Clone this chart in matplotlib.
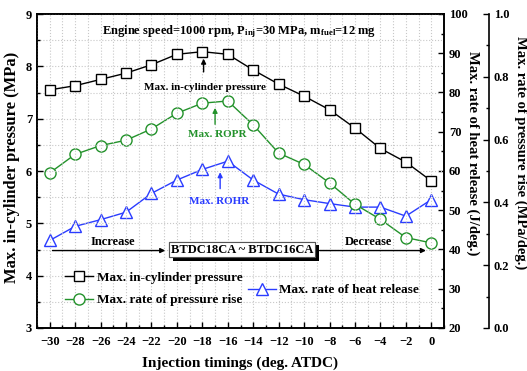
import matplotlib
matplotlib.use("Agg")
import matplotlib.pyplot as plt
import matplotlib.patheffects as pe
from matplotlib.ticker import MultipleLocator, FormatStrFormatter
import numpy as np

## données
timing = [-30, -28, -26, -24, -22, -20, -18, -16, -14, -12, -10, -8, -6, -4, -2, 0]
p_max = [7.55, 7.63, 7.75, 7.87, 8.03, 8.23, 8.28, 8.23, 7.93, 7.66, 7.43, 7.17, 6.82, 6.43, 6.17, 5.81]
ropr = [0.494, 0.553, 0.581, 0.598, 0.634, 0.684, 0.716, 0.723, 0.647, 0.557, 0.521, 0.462, 0.394, 0.346, 0.288, 0.271]
rohr = [42.3, 45.9, 47.6, 49.5, 54.3, 57.7, 60.4, 62.5, 57.7, 54.1, 52.7, 51.7, 50.8, 50.8, 48.5, 52.7]
xticks = list(range(-30, 1, 2))

green = '#23922b'
blue = '#2a3cff'

plt.rcParams['font.family'] = 'Liberation Serif'
plt.rcParams['font.weight'] = 'bold'
plt.rcParams['mathtext.fontset'] = 'custom'
plt.rcParams['mathtext.rm'] = 'Liberation Serif:bold'
plt.rcParams['mathtext.it'] = 'Liberation Serif:bold'
plt.rcParams['mathtext.bf'] = 'Liberation Serif:bold'
plt.rcParams['mathtext.default'] = 'rm'

fig = plt.figure(figsize=(5.27, 3.71), dpi=100)
ax = fig.add_axes([37/527, 1-328/371, 407/527, 314/371])
ax2 = ax.twinx()
ax3 = ax.twinx()
ax3.spines['right'].set_position(('axes', 1.1106))

## courbes
l1, = ax.plot(timing, p_max, '-s', color='k', mfc='white', mec='k', ms=7, lw=1, mew=1, zorder=5)
l3, = ax2.plot(timing, rohr, '-^', color=blue, mfc='white', mec=blue, ms=8.5, lw=1, mew=1)
l2, = ax3.plot(timing, ropr, '-o', color=green, mfc='white', mec=green, ms=8, lw=1, mew=1)

ax.set_xlim(-31, 1)
ax.set_ylim(3, 9)
ax2.set_ylim(20, 100)
ax3.set_ylim(0, 1.0)
ax.set_xticks(xticks)
ax.xaxis.set_minor_locator(MultipleLocator(1))
ax.yaxis.set_major_locator(MultipleLocator(1))
ax.yaxis.set_minor_locator(MultipleLocator(0.5))
ax2.yaxis.set_major_locator(MultipleLocator(10))
ax2.yaxis.set_minor_locator(MultipleLocator(5))
ax3.yaxis.set_major_locator(MultipleLocator(0.2))
ax3.yaxis.set_minor_locator(MultipleLocator(0.1))
ax3.yaxis.set_major_formatter(FormatStrFormatter('%.1f'))

ax.grid(True, which='both', color='#c8c8c8', ls=':', lw=0.8)
ax.set_axisbelow(True)

for a in (ax, ax2, ax3):
    a.tick_params(which='both', direction='in', labelsize=9, width=1)
    a.tick_params(which='major', length=4)
    a.tick_params(which='minor', length=2)
    for s in a.spines.values():
        s.set_linewidth(1.2)
ax.tick_params(axis='x', pad=6)
ax3.spines['top'].set_visible(False)
ax3.spines['bottom'].set_visible(False)
ax3.spines['left'].set_visible(False)

ax.set_xlabel('Injection timings (deg. ATDC)', fontsize=11, fontweight='bold', labelpad=6)
ax.set_ylabel('Max. in-cylinder pressure (MPa)', fontsize=12, fontweight='bold')
ax2.set_ylabel('Max. rate of heat release (J/deg.)', fontsize=10.5, fontweight='bold', rotation=270)
ax3.set_ylabel('Max. rate of pressure rise (MPa/deg.)', fontsize=10.5, fontweight='bold', rotation=270)
ax.yaxis.set_label_coords(-0.061, 0.513)
ax2.yaxis.set_label_coords(1.071, 0.556)
ax3.yaxis.set_label_coords(1.189, 0.56)
for a in (ax, ax2, ax3):
    a.yaxis.label.set_va('center')

## textes et fleches
ax.text(-15.1, 8.66, 'Engine speed=1000 rpm, P$_{inj}$=30 MPa, m$_{fuel}$=12 mg',
        ha='center', va='center', fontsize=9, fontweight='bold')

ax.text(-17.8, 7.6, 'Max. in-cylinder pressure', ha='center', va='center', fontsize=8, fontweight='bold')
ax.annotate('', xy=(-17.9, 8.2), xytext=(-17.9, 7.84),
            arrowprops=dict(arrowstyle='-|>', color='k', lw=1, mutation_scale=7))
ax.text(-16.8, 6.69, 'Max. ROPR', ha='center', va='center', fontsize=8, fontweight='bold', color=green)
ax.annotate('', xy=(-17.0, 7.26), xytext=(-17.0, 6.84),
            arrowprops=dict(arrowstyle='-|>', color=green, lw=1, mutation_scale=7))
ax.text(-16.65, 5.42, 'Max. ROHR', ha='center', va='center', fontsize=8, fontweight='bold', color=blue)
ax.annotate('', xy=(-16.6, 6.03), xytext=(-16.6, 5.61),
            arrowprops=dict(arrowstyle='-|>', color=blue, lw=1, mutation_scale=7))

ax.text(-25, 4.65, 'Increase', ha='center', va='center', fontsize=9, fontweight='bold')
ax.text(-4.9, 4.65, 'Decrease', ha='center', va='center', fontsize=9, fontweight='bold')
ax.annotate('', xy=(-20.7, 4.48), xytext=(-30, 4.48),
            arrowprops=dict(arrowstyle='-|>', color='k', lw=1, mutation_scale=7))
ax.annotate('', xy=(-0.2, 4.48), xytext=(-9.0, 4.48),
            arrowprops=dict(arrowstyle='-|>', color='k', lw=1, mutation_scale=7))
box = ax.text(-14.85, 4.5, 'BTDC18CA ~ BTDC16CA', ha='center', va='center', fontsize=9,
              fontweight='bold', zorder=6,
              bbox=dict(boxstyle='square,pad=0.15', fc='white', ec='#555555', lw=0.8))
box.get_bbox_patch().set_path_effects([
    pe.withSimplePatchShadow(offset=(2.5, -2.5), shadow_rgbFace='k', alpha=1), pe.Normal()])

## legendes
leg1 = ax.legend([l1, l2], ['Max. in-cylinder pressure', 'Max. rate of pressure rise'],
                 loc='center left', bbox_to_anchor=(0.069, 0.124), frameon=False,
                 borderaxespad=0, borderpad=0, handlelength=2.1, handletextpad=0.3,
                 labelspacing=0.75, prop=dict(size=9.5, weight='bold'))
leg2 = ax.legend([l3], ['Max. rate of heat release'],
                 loc='center left', bbox_to_anchor=(0.518, 0.121), frameon=False,
                 borderaxespad=0, borderpad=0, handlelength=2.1, handletextpad=0.3,
                 prop=dict(size=9.5, weight='bold'))
ax.add_artist(leg1)

ax.set_zorder(ax3.get_zorder() + 1)
ax.patch.set_visible(False)

fig.savefig('out.png', dpi=100)
